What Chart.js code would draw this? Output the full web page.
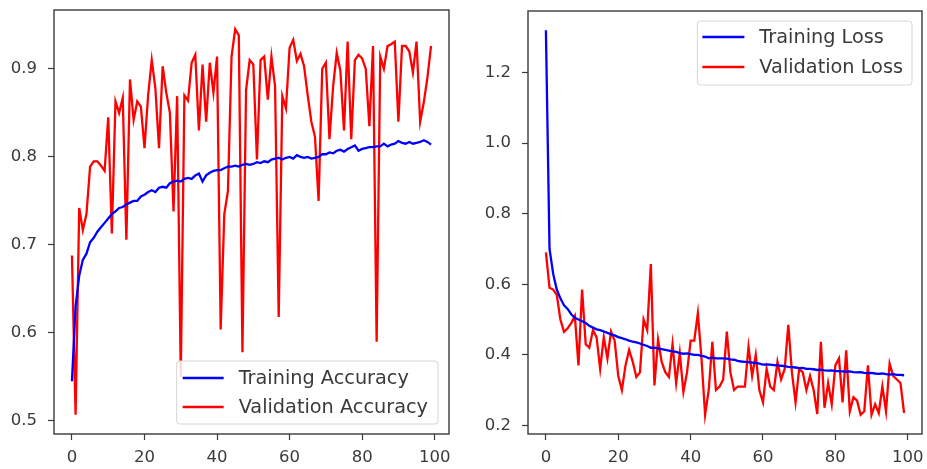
<!DOCTYPE html>
<html>
<head>
<meta charset="utf-8">
<script src="https://cdn.jsdelivr.net/npm/chart.js@4.4.1/dist/chart.umd.min.js"></script>
<style>
  html, body { margin: 0; padding: 0; background: #fff; }
  #wrap { position: relative; width: 927px; height: 469px; overflow: hidden; }
  #accWrap { position: absolute; left: 0; top: 0; width: 460px; height: 469px; }
  #lossWrap { position: absolute; left: 460px; top: 0; width: 467px; height: 469px; }
</style>
</head>
<body>
<div id="wrap">
  <div id="accWrap"><canvas id="acc" width="460" height="469"></canvas></div>
  <div id="lossWrap"><canvas id="loss" width="467" height="469"></canvas></div>
</div>
<script>
// ---------------- DATA ----------------
const trainAcc = [
  0.545, 0.630, 0.665, 0.683, 0.690, 0.703, 0.708, 0.715, 0.720, 0.725,
  0.730, 0.735, 0.738, 0.742, 0.743, 0.746, 0.748, 0.750, 0.750, 0.755,
  0.757, 0.760, 0.762, 0.760, 0.765, 0.766, 0.765, 0.770, 0.772, 0.773,
  0.772, 0.775, 0.776, 0.775, 0.779, 0.781, 0.772, 0.779, 0.782, 0.784,
  0.785, 0.785, 0.787, 0.789, 0.789, 0.790, 0.789, 0.791, 0.792, 0.791,
  0.792, 0.794, 0.793, 0.795, 0.794, 0.797, 0.798, 0.799, 0.797, 0.799,
  0.800, 0.798, 0.802, 0.800, 0.799, 0.800, 0.798, 0.799, 0.800, 0.803,
  0.803, 0.805, 0.804, 0.807, 0.808, 0.806, 0.809, 0.811, 0.813, 0.807,
  0.809, 0.810, 0.811, 0.811, 0.812, 0.812, 0.815, 0.812, 0.814, 0.815,
  0.818, 0.816, 0.815, 0.817, 0.815, 0.816, 0.817, 0.819, 0.817, 0.814
];
const valAcc = [
  0.688, 0.507, 0.742, 0.717, 0.735, 0.789, 0.795, 0.795, 0.790, 0.784,
  0.845, 0.713, 0.863, 0.850, 0.867, 0.706, 0.888, 0.842, 0.863, 0.857,
  0.810, 0.870, 0.910, 0.878, 0.810, 0.903, 0.873, 0.850, 0.738, 0.869,
  0.550, 0.870, 0.864, 0.907, 0.916, 0.830, 0.905, 0.840, 0.907, 0.873,
  0.914, 0.604, 0.735, 0.761, 0.914, 0.945, 0.938, 0.578, 0.876, 0.910,
  0.905, 0.797, 0.910, 0.914, 0.865, 0.914, 0.880, 0.618, 0.869, 0.855,
  0.924, 0.933, 0.909, 0.917, 0.903, 0.870, 0.840, 0.823, 0.750, 0.900,
  0.907, 0.820, 0.880, 0.918, 0.898, 0.830, 0.931, 0.820, 0.910, 0.916,
  0.912, 0.900, 0.835, 0.926, 0.590, 0.914, 0.900, 0.926, 0.928, 0.931,
  0.840, 0.926, 0.926, 0.920, 0.896, 0.931, 0.840, 0.862, 0.890, 0.926
];
const trainLoss = [
  1.320, 0.700, 0.630, 0.585, 0.560, 0.540, 0.530, 0.515, 0.505, 0.500,
  0.495, 0.490, 0.482, 0.477, 0.472, 0.470, 0.466, 0.462, 0.458, 0.455,
  0.450, 0.447, 0.444, 0.440, 0.437, 0.435, 0.432, 0.428, 0.425, 0.420,
  0.420, 0.418, 0.416, 0.414, 0.412, 0.410, 0.408, 0.405, 0.403, 0.404,
  0.402, 0.400, 0.400, 0.397, 0.395, 0.390, 0.392, 0.390, 0.390, 0.390,
  0.389, 0.387, 0.386, 0.383, 0.381, 0.380, 0.379, 0.378, 0.377, 0.375,
  0.372, 0.373, 0.372, 0.371, 0.370, 0.369, 0.368, 0.366, 0.365, 0.364,
  0.362, 0.363, 0.360, 0.360, 0.359, 0.357, 0.358, 0.356, 0.355, 0.356,
  0.354, 0.354, 0.353, 0.352, 0.353, 0.351, 0.350, 0.351, 0.349, 0.348,
  0.349, 0.347, 0.346, 0.347, 0.345, 0.344, 0.345, 0.343, 0.343, 0.342
];
const valLoss = [
  0.690, 0.590, 0.585, 0.570, 0.500, 0.465, 0.475, 0.490, 0.510, 0.370,
  0.585, 0.430, 0.420, 0.470, 0.450, 0.360, 0.450, 0.390, 0.466, 0.440,
  0.340, 0.300, 0.370, 0.414, 0.380, 0.337, 0.350, 0.500, 0.470, 0.657,
  0.313, 0.443, 0.380, 0.351, 0.337, 0.430, 0.320, 0.405, 0.295, 0.350,
  0.440, 0.440, 0.518, 0.390, 0.230, 0.300, 0.437, 0.300, 0.310, 0.330,
  0.466, 0.350, 0.300, 0.310, 0.310, 0.310, 0.423, 0.340, 0.400, 0.300,
  0.265, 0.360, 0.310, 0.300, 0.380, 0.330, 0.360, 0.485, 0.350, 0.265,
  0.360, 0.350, 0.300, 0.340, 0.300, 0.232, 0.437, 0.250, 0.320, 0.260,
  0.370, 0.390, 0.265, 0.413, 0.240, 0.280, 0.270, 0.230, 0.240, 0.370,
  0.230, 0.260, 0.235, 0.310, 0.240, 0.375, 0.340, 0.330, 0.320, 0.235
];
const epochs = trainAcc.map((_, i) => i);
const xTicks = [0, 20, 40, 60, 80, 100];
const accTicks = [0.5, 0.6, 0.7, 0.8, 0.9];
const lossTicks = [0.2, 0.4, 0.6, 0.8, 1.0, 1.2];
const accLabels = ['Training Accuracy', 'Validation Accuracy'];
const lossLabels = ['Training Loss', 'Validation Loss'];

// ---------------- HELPERS ----------------
const FONT = '"DejaVu Sans", "Liberation Sans", sans-serif';
const TICK_COLOR = '#3a3a3a';

function pts(arr) { return arr.map((v, i) => ({ x: epochs[i], y: v })); }
function padRange(arr1, arr2) {
  const all = arr1.concat(arr2);
  const lo = Math.min(...all), hi = Math.max(...all);
  const m = (hi - lo) * 0.05;
  return [lo - m, hi + m];
}

const boxPlugin = {
  id: 'boxPlugin',
  afterDatasetsDraw(chart) {
    const { ctx, chartArea: a } = chart;
    const o = chart.options.plugins.boxPlugin;
    ctx.save();
    // frame
    ctx.strokeStyle = '#3a3a3a';
    ctx.lineWidth = 1.4;
    ctx.strokeRect(a.left, a.top, a.right - a.left, a.bottom - a.top);
    // legend
    ctx.font = o.fontSize + 'px ' + FONT;
    const labels = chart.data.datasets.map(d => d.label);
    const tw = Math.max(...labels.map(l => ctx.measureText(l).width));
    const w = o.textOffset + tw + o.rightPad;
    const h = o.height;
    const x = a.right - o.marginX - w;
    const y = o.corner === 'lower' ? a.bottom - o.marginY - h : a.top + o.marginY;
    ctx.fillStyle = 'rgba(255,255,255,0.85)';
    ctx.strokeStyle = '#d6d6d6';
    ctx.lineWidth = 1;
    const r = 3;
    ctx.beginPath();
    ctx.moveTo(x + r, y);
    ctx.lineTo(x + w - r, y); ctx.quadraticCurveTo(x + w, y, x + w, y + r);
    ctx.lineTo(x + w, y + h - r); ctx.quadraticCurveTo(x + w, y + h, x + w - r, y + h);
    ctx.lineTo(x + r, y + h); ctx.quadraticCurveTo(x, y + h, x, y + h - r);
    ctx.lineTo(x, y + r); ctx.quadraticCurveTo(x, y, x + r, y);
    ctx.closePath();
    ctx.fill(); ctx.stroke();
    chart.data.datasets.forEach((d, i) => {
      const ry = y + o.firstRow + i * o.rowGap;
      ctx.strokeStyle = d.borderColor;
      ctx.lineWidth = 2.4;
      ctx.beginPath();
      ctx.moveTo(x + o.handleX0, ry);
      ctx.lineTo(x + o.handleX1, ry);
      ctx.stroke();
      ctx.fillStyle = TICK_COLOR;
      ctx.textBaseline = 'middle';
      ctx.textAlign = 'left';
      ctx.fillText(d.label, x + o.textOffset, ry + 1);
    });
    ctx.restore();
  }
};

function makeChart(id, series, labels, yTicks, yWidth, pad, legendOpts, decimals) {
  const [ymin, ymax] = padRange(series[0], series[1]);
  const colors = ['#0000ff', '#ff0000'];
  return new Chart(document.getElementById(id), {
    type: 'line',
    data: {
      datasets: series.map((s, i) => ({
        label: labels[i],
        data: pts(s),
        borderColor: colors[i],
        borderWidth: 2.3,
        pointRadius: 0,
        tension: 0,
        fill: false
      }))
    },
    options: {
      responsive: false,
      animation: false,
      devicePixelRatio: 1,
      layout: { padding: pad },
      plugins: {
        legend: { display: false },
        tooltip: { enabled: false },
        boxPlugin: legendOpts
      },
      scales: {
        x: {
          type: 'linear',
          min: -4.95, max: 103.95,
          afterFit(s) { s.height = 35; s.paddingLeft = 0; s.paddingRight = 0; },
          afterBuildTicks(s) { s.ticks = xTicks.map(v => ({ value: v })); },
          border: { display: false },
          grid: { drawOnChartArea: false, drawTicks: true, tickLength: 6, tickColor: '#3a3a3a', tickWidth: 1.2 },
          ticks: { color: TICK_COLOR, font: { family: FONT, size: 16.5 }, padding: 8, maxRotation: 0,
                   callback: v => String(v) }
        },
        y: {
          type: 'linear',
          min: ymin, max: ymax,
          afterFit(s) { s.width = yWidth; s.paddingTop = 0; s.paddingBottom = 0; },
          afterBuildTicks(s) { s.ticks = yTicks.map(v => ({ value: v })); },
          border: { display: false },
          grid: { drawOnChartArea: false, drawTicks: true, tickLength: 6, tickColor: '#3a3a3a', tickWidth: 1.2 },
          ticks: { color: TICK_COLOR, font: { family: FONT, size: 16.5 }, padding: 11,
                   callback: v => Number(v).toFixed(decimals) }
        }
      }
    },
    plugins: [boxPlugin]
  });
}

makeChart('acc', [trainAcc, valAcc], accLabels, accTicks, 54,
  { left: 0, right: 11, top: 10, bottom: 0 },
  { corner: 'lower', marginX: 11, marginY: 10, height: 63, firstRow: 17, rowGap: 29,
    handleX0: 6, handleX1: 47, textOffset: 62, rightPad: 10, fontSize: 19.3 }, 1);

makeChart('loss', [trainLoss, valLoss], lossLabels, lossTicks, 68,
  { left: 0, right: 5, top: 11, bottom: 0 },
  { corner: 'upper', marginX: 10, marginY: 10, height: 64, firstRow: 16, rowGap: 30,
    handleX0: 5, handleX1: 47, textOffset: 62, rightPad: 9, fontSize: 19.3 }, 1);
</script>
</body>
</html>
